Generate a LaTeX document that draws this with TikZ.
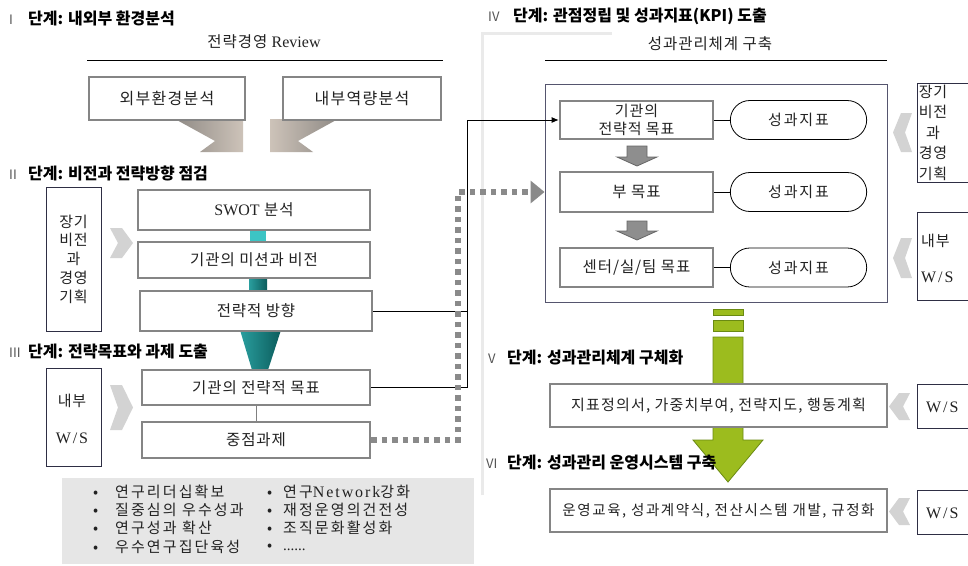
\documentclass[tikz,border=0pt]{standalone}
\usepackage{fontspec}
\setmainfont{Liberation Serif}
\newfontfamily\kr{Noto Sans CJK KR}
\newfontfamily\krs{Noto Sans CJK KR}[LetterSpace=6]
\newfontfamily\krv{Noto Sans CJK KR}[LetterSpace=8]
\newfontfamily\krw{Noto Sans CJK KR}[LetterSpace=11]
\newfontfamily\krb{Noto Sans CJK KR}[LetterSpace=14]
\newfontfamily\krp{Noto Sans CJK KR}[LetterSpace=12]
\newfontfamily\lat{Liberation Serif}
\newfontfamily\latw{Liberation Serif}[LetterSpace=12]
\usetikzlibrary{arrows.meta,shapes.misc}
\definecolor{boxgray}{HTML}{858585}
\definecolor{tboxc}{HTML}{2E2E44}
\definecolor{framec}{HTML}{55556E}
\definecolor{chevc}{HTML}{D3D3D3}
\definecolor{panelc}{HTML}{E6E6E6}
\definecolor{lgray}{HTML}{EAEAEA}
\definecolor{numgray}{HTML}{555555}
\definecolor{txt}{HTML}{222222}
\definecolor{beigeD}{HTML}{8F8A85}
\definecolor{beigeL}{HTML}{CDC3B9}
\definecolor{greenF}{HTML}{9CBC1E}
\definecolor{greenD}{HTML}{6A8A12}
\definecolor{arrowg}{HTML}{8E8E8E}
\definecolor{arrowgd}{HTML}{666666}
\definecolor{dotc}{HTML}{8A8A8A}
\definecolor{tealA}{HTML}{3CC4C4}
\definecolor{tealB}{HTML}{1FA3A3}
\definecolor{tealL}{HTML}{2A9E9E}
\definecolor{tealD}{HTML}{0B5C5C}
\newcommand\bodyf{\krs\fontsize{15.5}{18}\selectfont\color{txt}}
\newcommand\headf{\kr\bfseries\fontsize{16}{19}\selectfont}
\newcommand\numf{\kr\fontsize{13}{15}\selectfont\color{numgray}}
\newcommand\bulf{\krb\fontsize{15}{17}\selectfont\color{txt}}
\begin{document}
\begin{tikzpicture}[x=1pt,y=-1pt,
  gbox/.style={draw=boxgray, line width=2.6pt, fill=white, inner sep=2pt, font=\bodyf},
  tbox/.style={draw=tboxc, line width=0.9pt, fill=white, inner sep=2pt},
  pill/.style={rounded rectangle, draw=black, line width=0.8pt, fill=white, font=\krp\fontsize{15}{18}\selectfont\color{txt}, minimum width=143pt, minimum height=39pt},
  hd/.style={anchor=west, inner sep=0pt},
  conn/.style={draw=black, line width=0.9pt},
  plain/.style={inner sep=0pt}
]
\fill[white] (0,0) rectangle (968,565);
\useasboundingbox (0,0) rectangle (968,565);

% ---------- left column ----------
\node[fill=panelc, minimum width=412pt, minimum height=86pt, inner sep=0pt, anchor=north west] (panel) at (62,478) {};

\node[plain, font=\bodyf] (t1) at (264,42) {전략경영 {\lat\fontsize{16}{18}\selectfont Review}};
\draw[line width=0.8pt] (87,60) -- (443,60);

% beige arrows
\shade[left color=beigeD, right color=beigeL] (175,119) -- (243,119) -- (243,152) -- (200,152) -- (215,141) -- cycle;
\shade[left color=beigeL, right color=beigeD] (338,119) -- (270,119) -- (270,152) -- (313,152) -- (298,141) -- cycle;

\node[gbox, minimum width=156pt, minimum height=43pt, font=\krv\fontsize{16}{18}\selectfont\color{txt}] (e1) at (167,98.5) {외부환경분석};
\node[gbox, minimum width=158pt, minimum height=43pt, font=\krv\fontsize{16}{18}\selectfont\color{txt}] (e2) at (362,98.5) {내부역량분석};

% teal connectors
\fill[tealA] (250,230) rectangle (266,242);
\shade[left color=tealL, right color=tealD] (249,278) rectangle (267,291);
\shade[left color=tealL, right color=tealD] (240,330) -- (281,330) -- (268,370) -- (252,370) -- cycle;

\node[gbox, minimum width=232pt, minimum height=40pt] (s1) at (254,210) {{\lat\fontsize{16}{18}\selectfont SWOT} 분석};
\node[gbox, minimum width=232pt, minimum height=36pt] (s2) at (254,260) {기관의 미션과 비전};
\node[gbox, minimum width=232pt, minimum height=40pt] (s3) at (256,311) {전략적 방향};
\node[gbox, minimum width=228pt, minimum height=35pt] (s4) at (256,387.5) {기관의 전략적 목표};
\node[gbox, minimum width=228pt, minimum height=36pt] (s5) at (256,440) {중점과제};
\draw[gray, line width=0.8pt] (s4.south) -- (s5.north);

\node[tbox, minimum width=55pt, minimum height=144pt] (lb1) at (73.5,259) {};
\node[plain, align=center, font=\bodyf\fontsize{15}{18.7}\selectfont] (lb1t) at (73.5,259) {장기\\비전\\과\\경영\\기획};
\node[tbox, minimum width=55pt, minimum height=98pt] (lb2) at (73.5,417) {};
\node[plain, align=center, font=\bodyf\fontsize{15}{18}\selectfont] (lb2t) at (72,419) {내부\\[19pt]{\latw\fontsize{16}{18}\selectfont W/S}};

\fill[chevc] (110,228) -- (122,228) -- (133,243) -- (122,258) -- (110,258) -- (118,243) -- cycle;
\fill[chevc] (110,385) -- (122,385) -- (133,407.5) -- (122,430) -- (110,430) -- (118,407.5) -- cycle;

% bullets
\node[hd, font=\bulf] (bl1) at (93,492) {\makebox[22pt][l]{•}연구리더십확보};
\node[hd, font=\bulf] (bl2) at (93,510) {\makebox[22pt][l]{•}질중심의 우수성과};
\node[hd, font=\bulf] (bl3) at (93,528) {\makebox[22pt][l]{•}연구성과 확산};
\node[hd, font=\bulf] (bl4) at (93,547) {\makebox[22pt][l]{•}우수연구집단육성};
\node[hd, font=\bulf] (br1) at (267,492) {\makebox[16pt][l]{•}연구{\latw\fontsize{16}{17}\selectfont Network}강화};
\node[hd, font=\bulf] (br2) at (267,510) {\makebox[16pt][l]{•}재정운영의건전성};
\node[hd, font=\bulf] (br3) at (267,528) {\makebox[16pt][l]{•}조직문화활성화};
\node[hd, font=\bulf] (br4) at (267,547) {\makebox[16pt][l]{•}{\lat ......}};

% ---------- right column ----------
\draw[lgray, line width=3pt] (482,495) -- (482,33) -- (612,33);
\node[plain, font=\bodyf] (t2) at (710,44) {성과관리체계 구축};
\draw[line width=0.8pt] (545,60) -- (887,60);

\node[draw=framec, line width=0.9pt, minimum width=342pt, minimum height=218pt, inner sep=0pt] (fr) at (716,193) {};

\node[gbox, minimum width=153pt, minimum height=38pt, align=center, font=\bodyf\fontsize{15}{17.5}\selectfont] (k1) at (636.5,120) {기관의\\전략적 목표};
\node[gbox, minimum width=153pt, minimum height=40pt] (k2) at (636.5,192) {부 목표};
\node[gbox, minimum width=153pt, minimum height=39pt] (k3) at (636.5,267.5) {센터/실/팀 목표};
\node[pill] (p1) at (798.5,120) {성과지표};
\node[pill] (p2) at (798.5,192) {성과지표};
\node[pill] (p3) at (798.5,267.5) {성과지표};
\draw[conn] (k1.east) -- (p1.west);
\draw[conn] (k2.east) -- (p2.west);
\draw[conn] (k3.east) -- (p3.west);

\filldraw[fill=arrowg, draw=arrowgd, line width=0.8pt] (627,146) -- (647,146) -- (647,157) -- (657,157) -- (637,166) -- (617,157) -- (627,157) -- cycle;
\filldraw[fill=arrowg, draw=arrowgd, line width=0.8pt] (627,221) -- (647,221) -- (647,231) -- (657,231) -- (637,240) -- (617,231) -- (627,231) -- cycle;

% right side input boxes
\node[tbox, minimum width=70pt, minimum height=99pt, anchor=west] (rb1) at (917,132.5) {};
\node[plain, align=center, font=\bodyf\fontsize{15}{20.5}\selectfont] (rb1t) at (933,132.5) {장기\\비전\\과\\경영\\기획};
\node[tbox, minimum width=70pt, minimum height=88pt, anchor=west] (rb2) at (917,256) {};
\node[plain, align=left, font=\bodyf\fontsize{15}{18}\selectfont, anchor=west] (rb2t) at (921,258) {내부\\[18pt]{\latw\fontsize{16}{18}\selectfont W/S}};
\node[tbox, minimum width=70pt, minimum height=44pt, anchor=west] (rb3) at (917,406) {};
\node[plain, font=\latw\fontsize{16}{18}\selectfont\color{txt}, anchor=west] (rb3t) at (926,407) {W/S};
\node[tbox, minimum width=70pt, minimum height=44pt, anchor=west] (rb4) at (917,512) {};
\node[plain, font=\latw\fontsize{16}{18}\selectfont\color{txt}, anchor=west] (rb4t) at (926,513) {W/S};

\fill[chevc] (912,113) -- (901,113) -- (893,132.5) -- (901,152) -- (912,152) -- (905,132.5) -- cycle;
\fill[chevc] (912,238) -- (901,238) -- (893,258) -- (901,278) -- (912,278) -- (905,258) -- cycle;
\fill[chevc] (910,393) -- (899,393) -- (889,406.5) -- (899,420) -- (910,420) -- (903,406.5) -- cycle;
\fill[chevc] (910,498) -- (899,498) -- (889,511.5) -- (899,525) -- (910,525) -- (903,511.5) -- cycle;

% green arrow
\filldraw[fill=greenF, draw=greenD, line width=0.8pt] (713,309) rectangle (743,315);
\filldraw[fill=greenF, draw=greenD, line width=0.8pt] (713,320) rectangle (743,331);
\filldraw[fill=greenF, draw=greenD, line width=0.8pt] (713,337) -- (743,337) -- (743,440) -- (763,440) -- (728,482) -- (693,440) -- (713,440) -- cycle;

\node[gbox, minimum width=337pt, minimum height=43pt, font=\krv\fontsize{15}{17}\selectfont\color{txt}] (v1) at (718.5,405.5) {지표정의서, 가중치부여, 전략지도, 행동계획};
\node[gbox, minimum width=337pt, minimum height=43pt, font=\krw\fontsize{14.5}{17}\selectfont\color{txt}] (v2) at (718.5,510.5) {운영교육, 성과계약식, 전산시스템 개발, 규정화};

% ---------- connectors ----------
\coordinate (bus) at (467,0);
\draw[conn, -{Latex[length=7pt,width=6pt]}] (s3.east) -| (bus |- k1.west) -- (k1.west);
\draw[conn] (s4.east) -| (bus |- s3.east);
\coordinate (dt1) at (458,440);
\coordinate (dt2) at (458,192);
\draw[dotc, line width=5.5pt, dash pattern=on 5.5pt off 5pt, -{Triangle[length=14pt,width=22pt]}] (s5.east) -- (dt1) -- (dt2) -- (fr.west |- k2.west);

% ---------- headings ----------
\node[hd] (h1) at (9,18) {\makebox[19pt][l]{\numf I}\headf 단계: 내외부 환경분석};
\node[hd] (h2) at (9,173) {\makebox[19pt][l]{\numf II}\headf 단계: 비전과 전략방향 점검};
\node[hd] (h3) at (9,352) {\makebox[19pt][l]{\numf III}\headf 단계: 전략목표와 과제 도출};
\node[hd] (h4) at (488,16) {\makebox[25pt][l]{\numf IV}\headf 단계: 관점정립 및 성과지표(KPI) 도출};
\node[hd] (h5) at (488,358) {\makebox[19pt][l]{\numf V}\headf 단계: 성과관리체계 구체화};
\node[hd] (h6) at (486,463) {\makebox[21pt][l]{\numf VI}\headf 단계: 성과관리 운영시스템 구축};
\end{tikzpicture}
\end{document}
